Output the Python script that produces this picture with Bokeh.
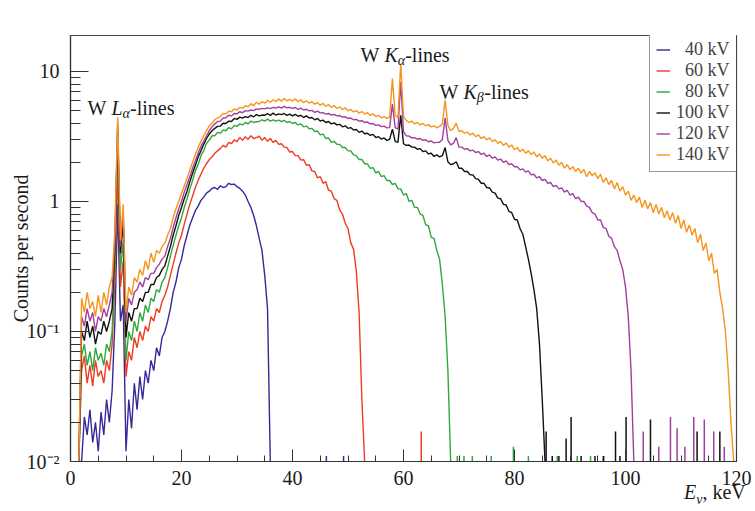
import math
from bokeh.plotting import figure
from bokeh.layouts import column
from bokeh.models import (Range1d, FixedTicker, CustomJSTickFormatter, Label,
                          Legend, LegendItem, Div)
from bokeh.embed import file_html
from bokeh.resources import INLINE

# ---------------- data ----------------
# histogram bin centres: first bin at 1.5 keV, 0.5 keV wide bins
E_FIRST = 1.5
E_STEP = 0.5

series_labels = ["\u200740 kV", "\u200760 kV", "\u200780 kV", "100 kV", "120 kV", "140 kV"]
series_colors = ["#35289a", "#ee3b22", "#2fa83c", "#111111", "#a0409e", "#f7941d"]

counts_40kV = [0.01,
    0.01, 0.022, 0.016, 0.025, 0.014, 0.02, 0.012, 0.024, 0.016, 0.03,
    0.02, 0.035, 0.12, 0.95, 0.12, 0.16, 0.012, 0.03, 0.018, 0.04,
    0.025, 0.045, 0.03, 0.05, 0.04, 0.06, 0.05, 0.075, 0.065, 0.09,
    0.1, 0.12, 0.15, 0.2, 0.24, 0.31, 0.36, 0.46, 0.55, 0.66,
    0.75, 0.85, 0.92, 1.02, 1.08, 1.16, 1.2, 1.26, 1.28, 1.24,
    1.32, 1.28, 1.3, 1.38, 1.35, 1.36, 1.3, 1.26, 1.2, 1.12,
    1.0, 0.9, 0.78, 0.65, 0.52, 0.42, 0.27, 0.15, 0.01]

counts_60kV = [0.01,
    0.05, 0.065, 0.04, 0.055, 0.038, 0.06, 0.045, 0.05, 0.04, 0.06,
    0.05, 0.08, 0.25, 1.8, 0.22, 0.35, 0.045, 0.07, 0.06, 0.09,
    0.075, 0.1, 0.085, 0.11, 0.1, 0.13, 0.12, 0.15, 0.14, 0.17,
    0.19, 0.22, 0.27, 0.33, 0.4, 0.48, 0.55, 0.67, 0.8, 0.95,
    1.1, 1.28, 1.45, 1.62, 1.8, 1.95, 2.1, 2.2, 2.35, 2.45,
    2.55, 2.7, 2.62, 2.85, 2.78, 2.98, 2.88, 3.1, 2.95, 3.15,
    3.0, 3.2, 3.05, 3.1, 3.18, 2.95, 3.1, 2.9, 3.05, 2.85,
    2.95, 2.75, 2.78, 2.62, 2.6, 2.4, 2.42, 2.25, 2.25, 2.08,
    2.1, 1.9, 1.92, 1.72, 1.7, 1.52, 1.55, 1.38, 1.42, 1.22,
    1.2, 1.05, 1.02, 0.86, 0.8, 0.68, 0.62, 0.48, 0.43, 0.29,
    0.14, 0.03, 0.01]

counts_80kV = [0.01,
    0.065, 0.08, 0.055, 0.07, 0.05, 0.075, 0.06, 0.068, 0.055, 0.08,
    0.07, 0.1, 0.35, 2.8, 0.3, 0.5, 0.06, 0.1, 0.085, 0.12,
    0.1, 0.14, 0.12, 0.16, 0.14, 0.18, 0.17, 0.21, 0.2, 0.24,
    0.26, 0.31, 0.38, 0.46, 0.55, 0.65, 0.75, 0.9, 1.05, 1.25,
    1.45, 1.72, 1.92, 2.25, 2.45, 2.8, 2.95, 3.2, 3.2, 3.4,
    3.35, 3.55, 3.5, 3.7, 3.62, 3.85, 3.78, 3.95, 3.88, 4.05,
    3.95, 4.15, 4.05, 4.1, 4.12, 4.25, 4.15, 4.3, 4.15, 4.25,
    4.15, 4.22, 4.12, 4.2, 4.05, 4.12, 3.98, 4.05, 3.88, 3.95,
    3.75, 3.8, 3.62, 3.65, 3.45, 3.48, 3.25, 3.3, 3.05, 3.08,
    2.85, 2.9, 2.75, 2.75, 2.6, 2.6, 2.45, 2.45, 2.28, 2.25,
    2.1, 2.1, 1.95, 1.95, 1.8, 1.82, 1.66, 1.7, 1.55, 1.58,
    1.45, 1.45, 1.35, 1.38, 1.25, 1.25, 1.12, 1.15, 1.0, 1.02,
    0.9, 0.9, 0.8, 0.78, 0.66, 0.65, 0.53, 0.52, 0.42, 0.36,
    0.23, 0.13, 0.05, 0.01]

counts_100kV = [0.01,
    0.1, 0.085, 0.12, 0.09, 0.11, 0.08, 0.1, 0.095, 0.12, 0.1,
    0.12, 0.15, 0.45, 3.6, 0.4, 0.7, 0.09, 0.14, 0.12, 0.15,
    0.15, 0.18, 0.17, 0.2, 0.2, 0.23, 0.23, 0.26, 0.27, 0.3,
    0.32, 0.38, 0.45, 0.55, 0.65, 0.78, 0.9, 1.05, 1.2, 1.42,
    1.65, 1.9, 2.2, 2.45, 2.75, 3.05, 3.3, 3.5, 3.65, 3.78,
    3.8, 4.0, 3.98, 4.15, 4.12, 4.35, 4.28, 4.45, 4.38, 4.5,
    4.42, 4.6, 4.48, 4.65, 4.55, 4.62, 4.6, 4.75, 4.58, 4.78,
    4.62, 4.72, 4.65, 4.75, 4.6, 4.7, 4.55, 4.68, 4.52, 4.6,
    4.42, 4.55, 4.38, 4.42, 4.25, 4.35, 4.15, 4.22, 4.05, 4.12,
    3.95, 4.02, 3.88, 3.92, 3.75, 3.82, 3.65, 3.7, 3.55, 3.58,
    3.4, 3.48, 3.32, 3.35, 3.22, 3.28, 3.1, 3.15, 3.02, 3.08,
    2.95, 3.0, 3.6, 2.9, 2.85, 4.6, 2.78, 2.7, 2.72, 2.62,
    2.62, 2.52, 2.55, 2.42, 2.45, 2.32, 2.35, 2.22, 2.28, 2.2,
    2.25, 2.6, 2.02, 1.92, 1.95, 2.02, 1.8, 1.8, 1.7, 1.7,
    1.6, 1.6, 1.5, 1.48, 1.38, 1.38, 1.28, 1.27, 1.18, 1.16,
    1.06, 1.05, 0.95, 0.94, 0.84, 0.82, 0.73, 0.72, 0.62, 0.56,
    0.45, 0.36, 0.28, 0.21, 0.15, 0.08, 0.03, 0.01]

counts_120kV = [0.01,
    0.13, 0.11, 0.15, 0.12, 0.14, 0.1, 0.13, 0.12, 0.15, 0.13,
    0.16, 0.2, 0.5, 4.0, 0.45, 0.85, 0.12, 0.18, 0.16, 0.2,
    0.21, 0.24, 0.22, 0.26, 0.25, 0.28, 0.28, 0.31, 0.33, 0.36,
    0.38, 0.45, 0.52, 0.63, 0.75, 0.88, 1.0, 1.18, 1.35, 1.55,
    1.8, 2.05, 2.35, 2.65, 2.9, 3.2, 3.5, 3.75, 3.95, 4.12,
    4.15, 4.38, 4.4, 4.6, 4.55, 4.75, 4.72, 4.9, 4.82, 5.0,
    4.95, 5.05, 5.0, 5.15, 5.1, 5.2, 5.15, 5.25, 5.18, 5.3,
    5.22, 5.35, 5.22, 5.38, 5.25, 5.3, 5.2, 5.28, 5.1, 5.22,
    5.05, 5.12, 4.98, 5.02, 4.85, 4.95, 4.8, 4.82, 4.7, 4.75,
    4.62, 4.68, 4.55, 4.58, 4.45, 4.48, 4.35, 4.38, 4.25, 4.28,
    4.15, 4.18, 4.05, 4.08, 3.95, 3.98, 3.85, 3.88, 3.76, 3.8,
    3.68, 3.7, 5.6, 3.7, 3.6, 8.3, 3.45, 3.2, 3.18, 3.08,
    3.1, 3.02, 3.05, 2.95, 2.98, 2.88, 2.92, 2.82, 2.85, 2.85,
    3.0, 4.4, 2.95, 2.72, 2.8, 3.1, 2.62, 2.62, 2.52, 2.55,
    2.45, 2.48, 2.38, 2.42, 2.3, 2.35, 2.22, 2.28, 2.15, 2.2,
    2.08, 2.12, 2.0, 2.05, 1.92, 1.95, 1.85, 1.85, 1.75, 1.78,
    1.68, 1.72, 1.6, 1.62, 1.52, 1.55, 1.45, 1.48, 1.38, 1.4,
    1.3, 1.33, 1.25, 1.27, 1.18, 1.22, 1.12, 1.15, 1.05, 1.08,
    1.0, 1.0, 0.92, 0.9, 0.82, 0.8, 0.72, 0.72, 0.63, 0.62,
    0.54, 0.52, 0.45, 0.42, 0.35, 0.3, 0.22, 0.13, 0.05, 0.01]

counts_140kV = [0.01,
    0.18, 0.14, 0.2, 0.15, 0.17, 0.13, 0.19, 0.14, 0.2, 0.16,
    0.22, 0.26, 0.6, 4.45, 0.5, 0.95, 0.14, 0.22, 0.19, 0.26,
    0.24, 0.3, 0.27, 0.35, 0.3, 0.4, 0.34, 0.42, 0.4, 0.45,
    0.48, 0.55, 0.62, 0.75, 0.88, 1.0, 1.15, 1.32, 1.5, 1.75,
    2.0, 2.3, 2.6, 2.9, 3.2, 3.5, 3.8, 4.0, 4.25, 4.4,
    4.5, 4.75, 4.72, 4.95, 4.9, 5.15, 5.05, 5.3, 5.2, 5.45,
    5.35, 5.65, 5.45, 5.8, 5.6, 5.85, 5.7, 6.0, 5.8, 6.05,
    5.85, 6.15, 5.9, 6.2, 5.95, 6.1, 5.9, 6.15, 5.85, 6.05,
    5.75, 5.95, 5.7, 5.85, 5.6, 5.75, 5.5, 5.68, 5.4, 5.55,
    5.3, 5.45, 5.2, 5.35, 5.1, 5.25, 4.98, 5.1, 4.88, 5.0,
    4.78, 4.92, 4.7, 4.82, 4.6, 4.72, 4.5, 4.6, 4.4, 4.5,
    4.35, 4.45, 8.8, 4.6, 4.4, 11.5, 4.5, 4.2, 4.05, 4.15,
    3.95, 4.05, 3.88, 3.98, 3.82, 3.9, 3.75, 3.82, 3.68, 3.78,
    3.95, 6.0, 3.85, 3.5, 3.65, 4.0, 3.45, 3.5, 3.35, 3.42,
    3.25, 3.35, 3.15, 3.25, 3.05, 3.15, 2.98, 3.08, 2.9, 2.98,
    2.8, 2.9, 2.7, 2.82, 2.62, 2.72, 2.5, 2.6, 2.42, 2.52,
    2.35, 2.45, 2.3, 2.4, 2.2, 2.32, 2.15, 2.25, 2.05, 2.15,
    1.98, 2.08, 1.9, 2.0, 1.8, 1.92, 1.76, 1.85, 1.7, 1.8,
    1.65, 1.76, 1.55, 1.7, 1.58, 1.66, 1.5, 1.62, 1.4, 1.52,
    1.35, 1.45, 1.25, 1.4, 1.2, 1.3, 1.12, 1.2, 1.02, 1.12,
    0.98, 1.08, 0.9, 1.02, 0.88, 0.98, 0.82, 0.95, 0.8, 0.9,
    0.75, 0.85, 0.72, 0.82, 0.68, 0.78, 0.62, 0.72, 0.58, 0.66,
    0.55, 0.62, 0.48, 0.56, 0.42, 0.48, 0.35, 0.4, 0.28, 0.3,
    0.2, 0.15, 0.1, 0.05, 0.02, 0.01]

# isolated single-bin counts above the spectrum end points
spikes_40kV_E = [46.1, 49.2]
spikes_40kV_v = [0.011, 0.011]
spikes_60kV_E = [63.2]
spikes_60kV_v = [0.017]
spikes_80kV_E = [69.7, 70.9, 72.4, 75.8, 79.8, 82.5, 87.7, 91.3, 93.7, 96.1]
spikes_80kV_v = [0.011, 0.011, 0.011, 0.011, 0.013, 0.011, 0.011, 0.011, 0.011, 0.011]
spikes_100kV_E = [85.7, 86.8, 88.0, 89.3, 90.2, 92.0, 94.5, 96.0, 98.2, 99.0, 100.1, 104.5, 112.9, 117.0]
spikes_100kV_v = [0.017, 0.011, 0.011, 0.015, 0.022, 0.011, 0.011, 0.011, 0.017, 0.011, 0.022, 0.021, 0.017, 0.017]
spikes_120kV_E = [103.2, 106.0, 108.1, 109.3, 110.7, 112.3, 114.2, 115.9, 117.8]
spikes_120kV_v = [0.017, 0.013, 0.022, 0.018, 0.013, 0.022, 0.021, 0.017, 0.013]

y_tick_values = [0.01, 0.1, 1, 10]
y_tick_labels = ["10\u207b\u00b2", "10\u207b\u00b9", "1", "10"]
x_tick_values = [0, 20, 40, 60, 80, 100, 120]

all_counts = [counts_40kV, counts_60kV, counts_80kV, counts_100kV, counts_120kV, counts_140kV]
all_spikes = [(spikes_40kV_E, spikes_40kV_v), (spikes_60kV_E, spikes_60kV_v),
              (spikes_80kV_E, spikes_80kV_v), (spikes_100kV_E, spikes_100kV_v),
              (spikes_120kV_E, spikes_120kV_v), ([], [])]

# ---------------- figure ----------------
FONT = "Liberation Serif"
Y_FLOOR = 0.01
TXT = "#1a1a1a"

p = figure(width=755, height=511, output_backend="svg", toolbar_location=None,
           y_axis_type="log", x_range=Range1d(0, 120), y_range=Range1d(Y_FLOOR, 18.9),
           min_border_left=70, min_border_right=19, min_border_top=35, min_border_bottom=50)
p.grid.visible = False
p.outline_line_color = "#444444"
p.outline_line_width = 1.2
p.background_fill_color = "white"
p.border_fill_color = "white"

renderers = []
for vals, col, (sE, sv) in zip(all_counts, series_colors, all_spikes):
    energies = [E_FIRST + E_STEP * i for i in range(len(vals))]
    if sE:
        p.segment(x0=sE, y0=[Y_FLOOR] * len(sE), x1=sE, y1=sv, line_color=col, line_width=1.5)
    r = p.line(energies, vals, line_color=col, line_width=1.4)
    renderers.append(r)

# axes
xa = p.xaxis[0]
xa.ticker = FixedTicker(ticks=x_tick_values, minor_ticks=list(range(0, 121, 5)))
ya = p.yaxis[0]
ya.ticker = FixedTicker(ticks=y_tick_values,
                        minor_ticks=[m * 10.0 ** k for k in (-2, -1, 0) for m in range(2, 10)])
ya.formatter = CustomJSTickFormatter(args=dict(vals=y_tick_values, labs=y_tick_labels), code="""
    for (let i = 0; i < vals.length; i++) {
        if (Math.abs(Math.log10(vals[i]) - Math.log10(tick)) < 1e-6) return labs[i];
    }
    return '';
""")
for ax in (xa, ya):
    ax.axis_line_color = "#333333"
    ax.axis_line_width = 1.2
    ax.major_tick_line_color = "#333333"
    ax.minor_tick_line_color = "#333333"
    ax.major_tick_out = 0
    ax.minor_tick_out = 0
    ax.major_label_text_font = FONT
    ax.major_label_text_font_size = "20px"
    ax.major_label_text_color = TXT
xa.major_tick_in = 12
xa.minor_tick_in = 6
xa.major_label_standoff = 9
ya.major_tick_in = 18
ya.minor_tick_in = 10
ya.major_label_standoff = 11
ya.axis_label = "Counts per second"
ya.axis_label_text_font = FONT
ya.axis_label_text_font_size = "20px"
ya.axis_label_text_font_style = "normal"
ya.axis_label_text_color = TXT
ya.axis_label_standoff = -8


def line_label(xe, yv, sym, sub):
    w_sym = 11.1 if sym == "L" else 13.3
    parts = [("W ", 0, 0, "20px", "normal"),
             (sym, 23.9, 0, "20px", "italic"),
             (sub, 23.9 + w_sym, -5, "14px", "italic"),
             ("-lines", 23.9 + w_sym + 7.5, 0, "20px", "normal")]
    for txt, dx, dy, fs, st in parts:
        p.add_layout(Label(x=xe, y=yv, x_offset=dx, y_offset=dy, text=txt,
                           text_align="left", text_baseline="alphabetic",
                           text_font=FONT, text_font_size=fs, text_font_style=st,
                           text_color=TXT))


line_label(3.06, 5.19, "L", "\u03b1")
line_label(52.25, 13.3, "K", "\u03b1")
line_label(66.5, 6.9, "K", "\u03b2")

legend = Legend(items=[LegendItem(label=lab, renderers=[r]) for lab, r in zip(series_labels, renderers)],
                location=(579, 289), margin=0, padding=6, spacing=0,
                glyph_width=14, glyph_height=17, label_height=17, label_standoff=6, label_width=54,
                label_text_font=FONT, label_text_font_size="18px",
                border_line_color="#333333", border_line_width=1.5,
                background_fill_color="white", background_fill_alpha=1.0)
p.add_layout(legend)

# x-axis title below the tick labels, right aligned (italic E with subscript nu)
x_title = Div(
    text=("<span style=\"font-family: 'Liberation Serif'; font-size: 20px; color: #1a1a1a; "
          "white-space: nowrap; line-height: 22px;\"><i>E</i>"
          "<sub style=\"font-size: 14px; line-height: 0;\"><i>\u03bd</i></sub>, keV</span>"),
    margin=(-30, 0, 0, 684))

open("out.html", "w").write(file_html(column(p, x_title), INLINE))
